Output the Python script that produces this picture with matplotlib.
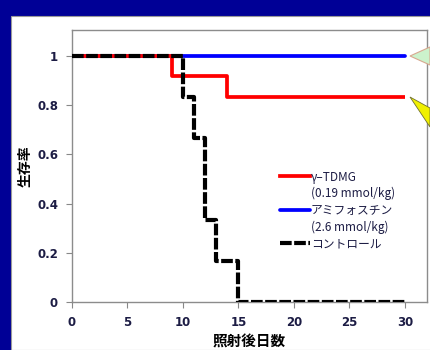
import matplotlib.pyplot as plt
from matplotlib.lines import Line2D
from matplotlib.patches import Rectangle, Polygon

plt.rcParams['font.family'] = ['DejaVu Sans', 'Noto Sans CJK JP']

# 照射後日数と生存率（階段状）
tdmg_days = [0, 9, 14, 30]
tdmg_surv = [1.0, 0.917, 0.833, 0.833]
amifo_days = [0, 30]
amifo_surv = [1.0, 1.0]
ctrl_days = [0, 10, 11, 12, 13, 15, 30]
ctrl_surv = [1.0, 0.833, 0.667, 0.333, 0.167, 0.0, 0.0]

labels = ['γ–TDMG', '(0.19 mmol/kg)', 'アミフォスチン', '(2.6 mmol/kg)', 'コントロール']
xticks = [0, 5, 10, 15, 20, 25, 30]
yticks = [0, 0.2, 0.4, 0.6, 0.8, 1]
ytick_labels = ['0', '0.2', '0.4', '0.6', '0.8', '1']

W, H = 430, 350
fig = plt.figure(figsize=(4.3, 3.5), dpi=100, facecolor='#000096')

# 白いパネル
fig.patches.append(Rectangle((11 / W, 0), 1, (H - 16) / H, transform=fig.transFigure,
                             facecolor='white', edgecolor='#9a9a9a', lw=0.8, zorder=-1))

ax = fig.add_axes([72 / W, (H - 302) / H, 355 / W, 272 / H])

ax.step(amifo_days, amifo_surv, where='post', color='#0000ff', lw=2.7,
        solid_capstyle='round', zorder=2)
ax.step(tdmg_days, tdmg_surv, where='post', color='#ff0000', lw=2.7,
        solid_capstyle='butt', zorder=3)
ax.step(ctrl_days, ctrl_surv, where='post', color='black', lw=3.0,
        dashes=(2.8, 0.6), zorder=4)

ax.set_xlim(0, 32)
ax.set_ylim(0, 1.106)
ax.set_xticks(xticks)
ax.set_yticks(yticks)
ax.set_yticklabels(ytick_labels)
for t in ax.get_xticklabels() + ax.get_yticklabels():
    t.set_fontweight('bold')
    t.set_fontsize(8.5)
    t.set_color('#1c1c44')
ax.tick_params(direction='out', length=4, width=0.8, color='#888888', pad=6)

for s in ax.spines.values():
    s.set_color('#8c8c8c')
    s.set_linewidth(1.0)

ax.set_ylabel('生存率', family=['Noto Sans CJK JP'], fontweight='bold', fontsize=10)
ax.yaxis.set_label_coords(-0.11, 0.5)
ax.set_xlabel('照射後日数', family=['Noto Sans CJK JP'], fontweight='bold', fontsize=10.5)
ax.xaxis.set_label_coords(0.5, -0.115)

blank = Line2D([], [], color='none')
handles = [Line2D([], [], color='#ff0000', lw=2.7),
           blank,
           Line2D([], [], color='#0000ff', lw=2.7, solid_capstyle='round'),
           blank,
           Line2D([], [], color='black', lw=3.0, dashes=(2.8, 0.6))]
leg = ax.legend(handles, labels, loc='upper left', bbox_to_anchor=(0.586, 0.483),
                frameon=False, handlelength=2.5, handletextpad=0.1,
                labelspacing=0.3, borderpad=0, borderaxespad=0,
                prop={'family': ['Noto Sans CJK JP', 'DejaVu Sans'], 'size': 8.5})
for t in leg.get_texts():
    t.set_color('#1c1c44')

# 右端の吹き出し（切れている）
fig.patches.append(Polygon([(410 / W, 1 - 56 / H), (430 / W, 1 - 47 / H), (430 / W, 1 - 65 / H)],
                           closed=True, transform=fig.transFigure,
                           facecolor='#ccf2cc', edgecolor='#d8a890', lw=0.8, zorder=5))
fig.patches.append(Polygon([(410 / W, 1 - 97 / H), (430 / W, 1 - 108 / H), (430 / W, 1 - 127 / H)],
                           closed=True, transform=fig.transFigure,
                           facecolor='#f0f000', edgecolor='#707030', lw=0.6, zorder=5))

fig.savefig('out.png', dpi=100, facecolor=fig.get_facecolor())
